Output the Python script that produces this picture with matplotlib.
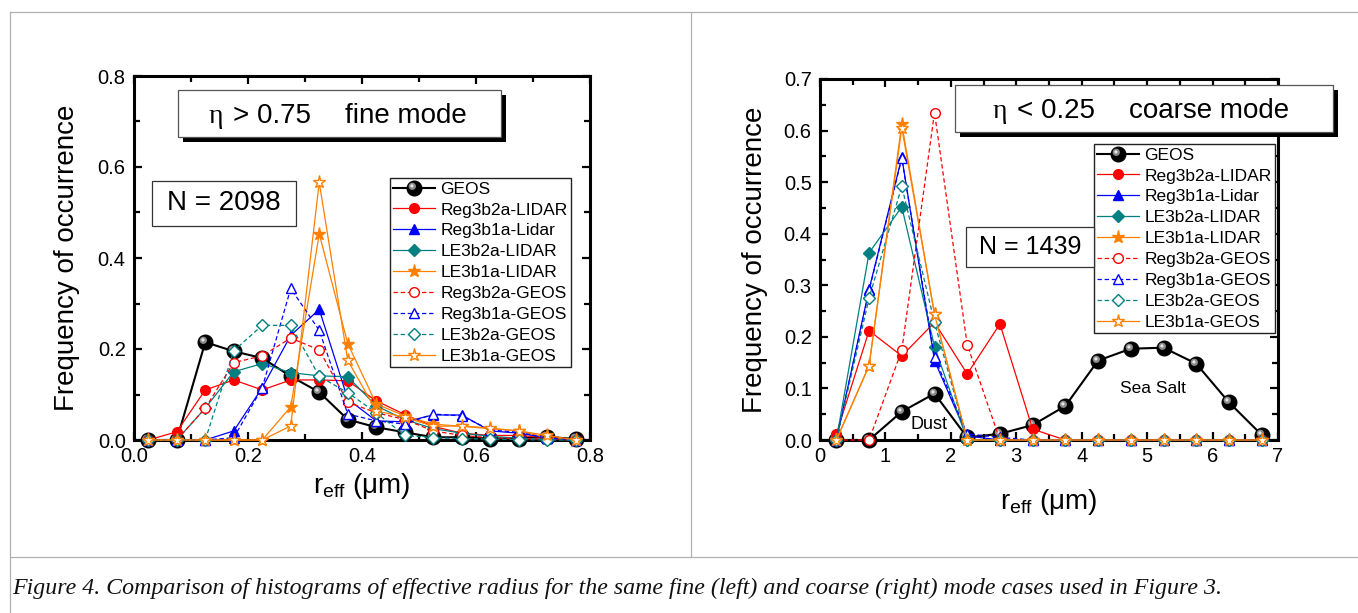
import matplotlib
matplotlib.use("Agg")
import matplotlib.pyplot as plt
from matplotlib.patches import Rectangle
from matplotlib.lines import Line2D
from matplotlib.markers import MarkerStyle
from matplotlib.transforms import Affine2D
from matplotlib.ticker import MultipleLocator, FormatStrFormatter

plt.rcParams['font.family'] = ['Liberation Sans', 'DejaVu Sans']
plt.rcParams['mathtext.fontset'] = 'custom'
plt.rcParams['mathtext.rm'] = 'Liberation Sans'
plt.rcParams['mathtext.it'] = 'Liberation Sans:italic'

# ---- data: fine mode (left) ----
r_fine = [0.025, 0.075, 0.125, 0.175, 0.225, 0.275, 0.325, 0.375,
          0.425, 0.475, 0.525, 0.575, 0.625, 0.675, 0.725, 0.775]
geos_f = [0, 0, 0.215, 0.195, 0.18, 0.14, 0.105, 0.045,
          0.028, 0.017, 0.006, 0.006, 0.003, 0.003, 0.007, 0.002]
reg3b2a_lidar_f = [0, 0.018, 0.11, 0.132, 0.11, 0.132, 0.132, 0.13,
                   0.086, 0.056, 0.03, 0.015, 0.01, 0.01, 0.005, 0]
reg3b1a_lidar_f = [0, 0, 0, 0.02, 0.115, 0.23, 0.287, 0.09,
                   0.042, 0.04, 0.055, 0.055, 0.02, 0.015, 0.005, 0]
le3b2a_lidar_f = [0, 0, 0.07, 0.15, 0.168, 0.148, 0.141, 0.139,
                  0.075, 0.045, 0.025, 0.015, 0.008, 0.004, 0.002, 0]
le3b1a_lidar_f = [0, 0, 0, 0, 0, 0.073, 0.453, 0.212,
                  0.079, 0.053, 0.035, 0.03, 0.025, 0.02, 0.005, 0]
reg3b2a_geos_f = [0, 0, 0.07, 0.17, 0.185, 0.224, 0.198, 0.083,
                  0.06, 0.045, 0.02, 0.01, 0.005, 0.003, 0.002, 0]
reg3b1a_geos_f = [0, 0, 0, 0.005, 0.115, 0.333, 0.241, 0.057,
                  0.042, 0.035, 0.057, 0.053, 0.022, 0.017, 0.004, 0]
le3b2a_geos_f = [0, 0, 0, 0.196, 0.252, 0.252, 0.14, 0.104,
                 0.06, 0.01, 0.005, 0.003, 0.002, 0.001, 0, 0]
le3b1a_geos_f = [0, 0, 0, 0, 0, 0.031, 0.566, 0.175,
                 0.064, 0.05, 0.03, 0.031, 0.026, 0.02, 0.01, 0]

# ---- data: coarse mode (right) ----
r_coarse = [0.25, 0.75, 1.25, 1.75, 2.25, 2.75, 3.25,
            3.75, 4.25, 4.75, 5.25, 5.75, 6.25, 6.75]
geos_c = [0, 0, 0.055, 0.09, 0.005, 0.012, 0.029,
          0.066, 0.154, 0.177, 0.179, 0.148, 0.073, 0.01]
reg3b2a_lidar_c = [0.012, 0.212, 0.163, 0.228, 0.128, 0.225, 0.021,
                   0, 0, 0, 0, 0, 0, 0]
reg3b1a_lidar_c = [0, 0.292, 0.548, 0.154, 0.008, 0, 0,
                   0, 0, 0, 0, 0, 0, 0]
le3b2a_lidar_c = [0, 0.363, 0.452, 0.181, 0, 0, 0,
                  0, 0, 0, 0, 0, 0, 0]
le3b1a_lidar_c = [0, 0.144, 0.613, 0.244, 0, 0, 0,
                  0, 0, 0, 0, 0, 0, 0]
reg3b2a_geos_c = [0, 0, 0.174, 0.635, 0.185, 0, 0,
                  0, 0, 0, 0, 0, 0, 0]
reg3b1a_geos_c = [0, 0.29, 0.546, 0.16, 0.012, 0.005, 0,
                  0, 0, 0, 0, 0, 0, 0]
le3b2a_geos_c = [0, 0.275, 0.492, 0.228, 0, 0, 0,
                 0, 0, 0, 0, 0, 0, 0]
le3b1a_geos_c = [0, 0.144, 0.605, 0.244, 0, 0, 0,
                 0, 0, 0, 0, 0, 0, 0]

labels = ['GEOS', 'Reg3b2a-LIDAR', 'Reg3b1a-Lidar', 'LE3b2a-LIDAR', 'LE3b1a-LIDAR',
          'Reg3b2a-GEOS', 'Reg3b1a-GEOS', 'LE3b2a-GEOS', 'LE3b1a-GEOS']

RED, BLUE, TEAL, ORANGE = '#ff0000', '#0000ff', '#008080', '#ff8000'
DASH = (0, (3.5, 2.2))
# (colour, marker, size, filled, linestyle)
styles = [
    (RED, 'o', 7, True, '-'),
    (BLUE, '^', 7.5, True, '-'),
    (TEAL, 'D', 6, True, '-'),
    (ORANGE, '*', 9.5, True, '-'),
    (RED, 'o', 7, False, DASH),
    (BLUE, '^', 7.5, False, DASH),
    (TEAL, 'D', 6, False, DASH),
    (ORANGE, '*', 9.5, False, '-'),
]

W, H = 1358, 613
fig = plt.figure(figsize=(W / 100, H / 100), dpi=100)


def fx(x):
    return x / W


def fy(y):
    return 1 - y / H


def draw_panel(ax, x, geos, series):
    M = 10.5
    g, = ax.plot(x, geos, color='black', lw=1.5, marker='o', ms=M,
                 mfc='black', mec='black', clip_on=False, zorder=3)
    h1, = ax.plot(x, geos, ls='none', clip_on=False, zorder=3.1,
                  marker=MarkerStyle('o', transform=Affine2D().translate(-0.3, 0.3)),
                  ms=0.5 * M, mfc='#8a8a8a', mew=0)
    h2, = ax.plot(x, geos, ls='none', clip_on=False, zorder=3.2,
                  marker=MarkerStyle('o', transform=Affine2D().translate(-0.8, 0.8)),
                  ms=0.22 * M, mfc='#e6e6e6', mew=0)
    handles = [(g, h1, h2)]
    for vals, (c, m, s, filled, ls) in zip(series, styles):
        ln, = ax.plot(x, vals, color=c, lw=0.9, ls=ls, marker=m, ms=s,
                      mfc=c if filled else 'white', mec=c, mew=1.0,
                      clip_on=False, zorder=4)
        handles.append(ln)
    return handles


def style_axes(ax, xmaj, xmin, ymaj, ymin, xfmt, yfmt):
    for sp in ax.spines.values():
        sp.set_linewidth(2.2)
    ax.xaxis.set_major_locator(MultipleLocator(xmaj))
    ax.xaxis.set_minor_locator(MultipleLocator(xmin))
    ax.yaxis.set_major_locator(MultipleLocator(ymaj))
    ax.yaxis.set_minor_locator(MultipleLocator(ymin))
    ax.xaxis.set_major_formatter(FormatStrFormatter(xfmt))
    ax.yaxis.set_major_formatter(FormatStrFormatter(yfmt))
    ax.tick_params(which='both', direction='in', top=True, right=True,
                   labelsize=14.5, width=1.6)
    ax.tick_params(which='major', length=6)
    ax.tick_params(which='minor', length=4)
    ax.tick_params(axis='y', pad=6)
    ax.tick_params(axis='x', pad=5)


def legend(ax, handles, x0, y0):
    ax.legend(handles, labels, loc='upper left', bbox_to_anchor=(fx(x0), fy(y0)),
              bbox_transform=fig.transFigure, borderaxespad=0, fontsize=12.5,
              frameon=True, fancybox=False, edgecolor='#222222', framealpha=1,
              handlelength=2.4, handletextpad=0.3, labelspacing=0.33,
              borderpad=0.2, numpoints=1)


def title_box(x0, y0, x1, y1):
    fig.add_artist(Rectangle((fx(x0 + 5), fy(y1 + 5)), fx(x1 - x0), (y1 - y0) / H,
                             transform=fig.transFigure, facecolor='black',
                             edgecolor='none', zorder=5))
    fig.add_artist(Rectangle((fx(x0), fy(y1)), fx(x1 - x0), (y1 - y0) / H,
                             transform=fig.transFigure, facecolor='white',
                             edgecolor='#555555', lw=0.9, zorder=6))


def n_box(x0, y0, x1, y1, txt, size):
    fig.add_artist(Rectangle((fx(x0), fy(y1)), fx(x1 - x0), (y1 - y0) / H,
                             transform=fig.transFigure, facecolor='white',
                             edgecolor='#333333', lw=0.9, zorder=6))
    fig.text(fx((x0 + x1) / 2), fy((y0 + y1) / 2), txt, fontsize=size,
             ha='center', va='center', zorder=7)


# ---- left panel ----
ax1 = fig.add_axes([fx(134), fy(440), fx(590 - 134), (440 - 76) / H])
h = draw_panel(ax1, r_fine, geos_f,
               [reg3b2a_lidar_f, reg3b1a_lidar_f, le3b2a_lidar_f, le3b1a_lidar_f,
                reg3b2a_geos_f, reg3b1a_geos_f, le3b2a_geos_f, le3b1a_geos_f])
ax1.set_xlim(0, 0.8)
ax1.set_ylim(0, 0.8)
style_axes(ax1, 0.2, 0.1, 0.2, 0.1, '%.1f', '%.1f')
ax1.set_ylabel('Frequency of occurrence', fontsize=20)
ax1.yaxis.set_label_coords(-0.118, 0.5)
ax1.set_xlabel(r'r$_{\mathrm{eff}}$ (μm)', fontsize=20)
ax1.xaxis.set_label_coords(0.5, -0.085)
legend(ax1, h, 390, 178)

title_box(178, 90, 501, 137)
fig.text(fx(209), fy(123), 'η', family=['Liberation Serif', 'DejaVu Serif'],
         fontsize=20, va='baseline', zorder=7)
fig.text(fx(233), fy(123), '> 0.75', fontsize=20, va='baseline', zorder=7)
fig.text(fx(345), fy(123), 'fine mode', fontsize=20, va='baseline', zorder=7)
n_box(152, 181, 296, 226, 'N = 2098', 20)

# ---- right panel ----
ax2 = fig.add_axes([fx(820), fy(440), fx(1278 - 820), (440 - 79) / H])
h = draw_panel(ax2, r_coarse, geos_c,
               [reg3b2a_lidar_c, reg3b1a_lidar_c, le3b2a_lidar_c, le3b1a_lidar_c,
                reg3b2a_geos_c, reg3b1a_geos_c, le3b2a_geos_c, le3b1a_geos_c])
ax2.set_xlim(0, 7)
ax2.set_ylim(0, 0.7)
style_axes(ax2, 1, 0.5, 0.1, 0.05, '%d', '%.1f')
ax2.set_ylabel('Frequency of occurrence', fontsize=20)
ax2.yaxis.set_label_coords(-0.1135, 0.5)
ax2.set_xlabel(r'r$_{\mathrm{eff}}$ (μm)', fontsize=20)
ax2.xaxis.set_label_coords(0.5, -0.13)
legend(ax2, h, 1094, 144)
ax2.text(1.66, 0.031, 'Dust', fontsize=13, ha='center', va='center')
ax2.text(5.09, 0.099, 'Sea Salt', fontsize=12.5, ha='center', va='center')

title_box(955, 85, 1333, 132)
fig.text(fx(993), fy(118), 'η', family=['Liberation Serif', 'DejaVu Serif'],
         fontsize=20, va='baseline', zorder=7)
fig.text(fx(1017), fy(118), '< 0.25', fontsize=20, va='baseline', zorder=7)
fig.text(fx(1129), fy(118), 'coarse mode', fontsize=20, va='baseline', zorder=7)
n_box(966, 227, 1094, 267, 'N = 1439', 18)

# ---- frame lines and caption ----
grey = '#b0b0b0'
for xs, ys in [((9.5, W), (12, 12)), ((9.5, 9.5), (12, H)),
               ((690.5, 690.5), (12, 557)), ((9.5, W), (557, 557))]:
    fig.add_artist(Line2D([fx(v) for v in xs], [fy(v) for v in ys],
                          transform=fig.transFigure, color=grey, lw=0.9))

fig.text(fx(12), fy(594), 'Figure 4. Comparison of histograms of effective radius for the same '
         'fine (left) and coarse (right) mode cases used in Figure 3.',
         family=['Liberation Serif', 'DejaVu Serif'], style='italic', fontsize=17.2,
         va='baseline', color='#111111')

fig.savefig('out.png', dpi=100)
